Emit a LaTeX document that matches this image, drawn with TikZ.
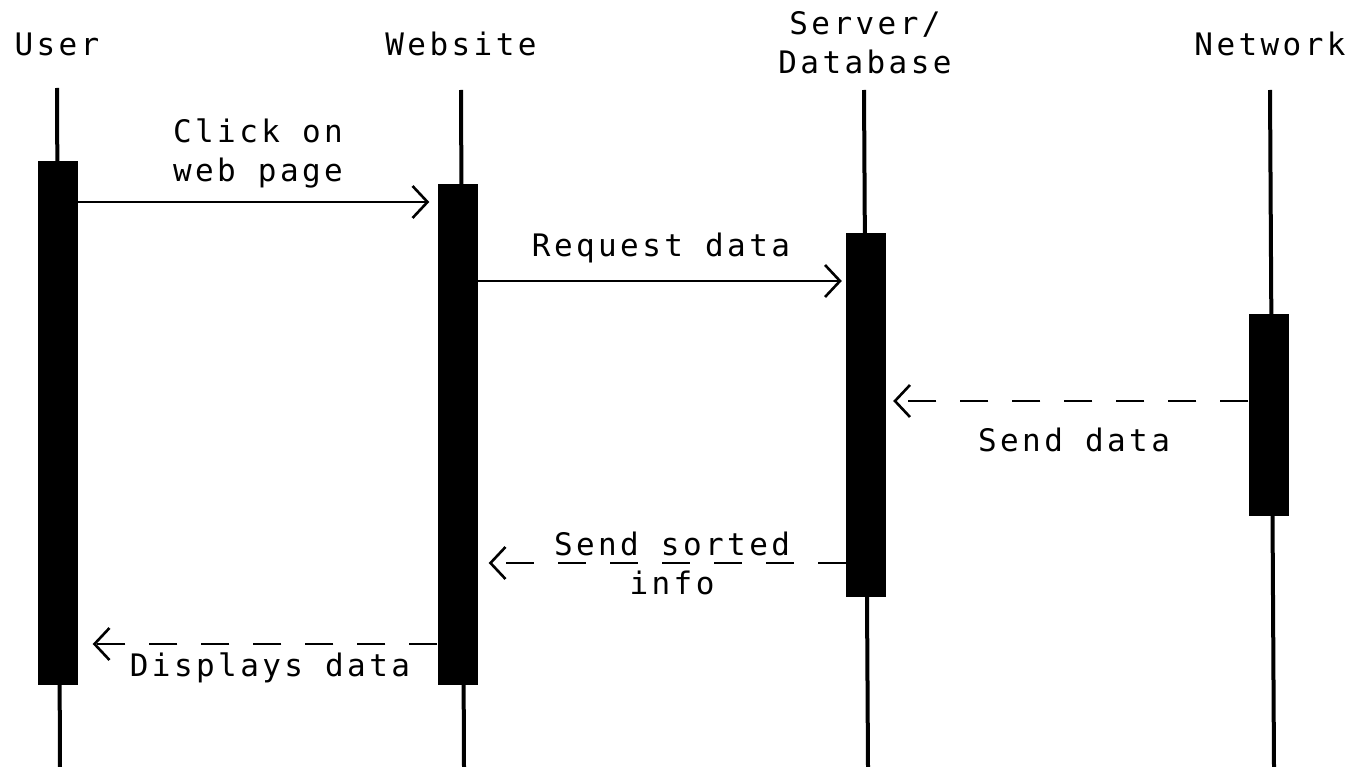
\documentclass[tikz,border=0pt]{standalone}
\usepackage{fontspec}
\newfontfamily\diagfont[LetterSpace=11]{DejaVu Sans Mono}
\usetikzlibrary{arrows.meta}
\begin{document}
\begin{tikzpicture}[x=1pt,y=-1pt,
  every node/.style={font=\diagfont\fontsize{31}{39}\selectfont, text=black, inner sep=0pt},
  lifeline/.style={line width=4pt},
  act/.style={fill=black, draw=none, minimum width=40pt, inner sep=0pt},
  msg/.style={line width=2.6pt, -{Straight Barb[length=15pt,width=32pt,line width=2.6pt]}},
  reply/.style={msg, dash pattern=on 28pt off 24pt},
  lbl/.style={align=center}]
\useasboundingbox (0,0) rectangle (1352,767);

% participants
\node (hU) at (57,44) {User};
\node (hW) at (461,44) {Website};
\node[lbl] (hS) at (865,43) {Server/\\Database};
\node (hN) at (1270,44) {Network};

% lifelines
\coordinate (uT) at (57,88);   \coordinate (uB) at (60,767);
\coordinate (wT) at (461,90);  \coordinate (wB) at (464,767);
\coordinate (sT) at (864,90);  \coordinate (sB) at (868,767);
\coordinate (nT) at (1270,90); \coordinate (nB) at (1274,767);
\draw[lifeline] (uT) -- (uB);
\draw[lifeline] (wT) -- (wB);
\draw[lifeline] (sT) -- (sB);
\draw[lifeline] (nT) -- (nB);

% activation bars
\node[act, minimum height=524pt] (uact) at (57.5,423) {};
\node[act, minimum height=501pt] (wact) at (457.5,434.5) {};
\node[act, minimum height=364pt] (sact) at (866,415) {};
\node[act, minimum height=202pt] (nact) at (1268.5,415) {};

% message heights
\coordinate (m1) at (0,202);
\coordinate (m2) at (0,281);
\coordinate (m3) at (0,401);
\coordinate (m4) at (0,563);
\coordinate (m5) at (0,644);

% messages
\draw[msg, shorten >=8pt] (uact.east |- m1) -- (wact.west |- m1);
\node[lbl] (l1) at (258,153) {Click on\\web page};

\draw[msg, shorten >=4pt] (wact.east |- m2) -- (sact.west |- m2);
\node (l2) at (661,248) {Request data};

\draw[reply, shorten >=7pt] (nact.west |- m3) -- (sact.east |- m3);
\node (l3) at (1074,440) {Send data};

\draw[reply, shorten >=11pt] (sact.west |- m4) -- (wact.east |- m4);
\node[lbl] (l4) at (672,563) {Send sorted\\info};

\draw[reply, shorten >=15pt] (wact.west |- m5) -- (uact.east |- m5);
\node (l5) at (270,668) {Displays data};
\end{tikzpicture}
\end{document}
